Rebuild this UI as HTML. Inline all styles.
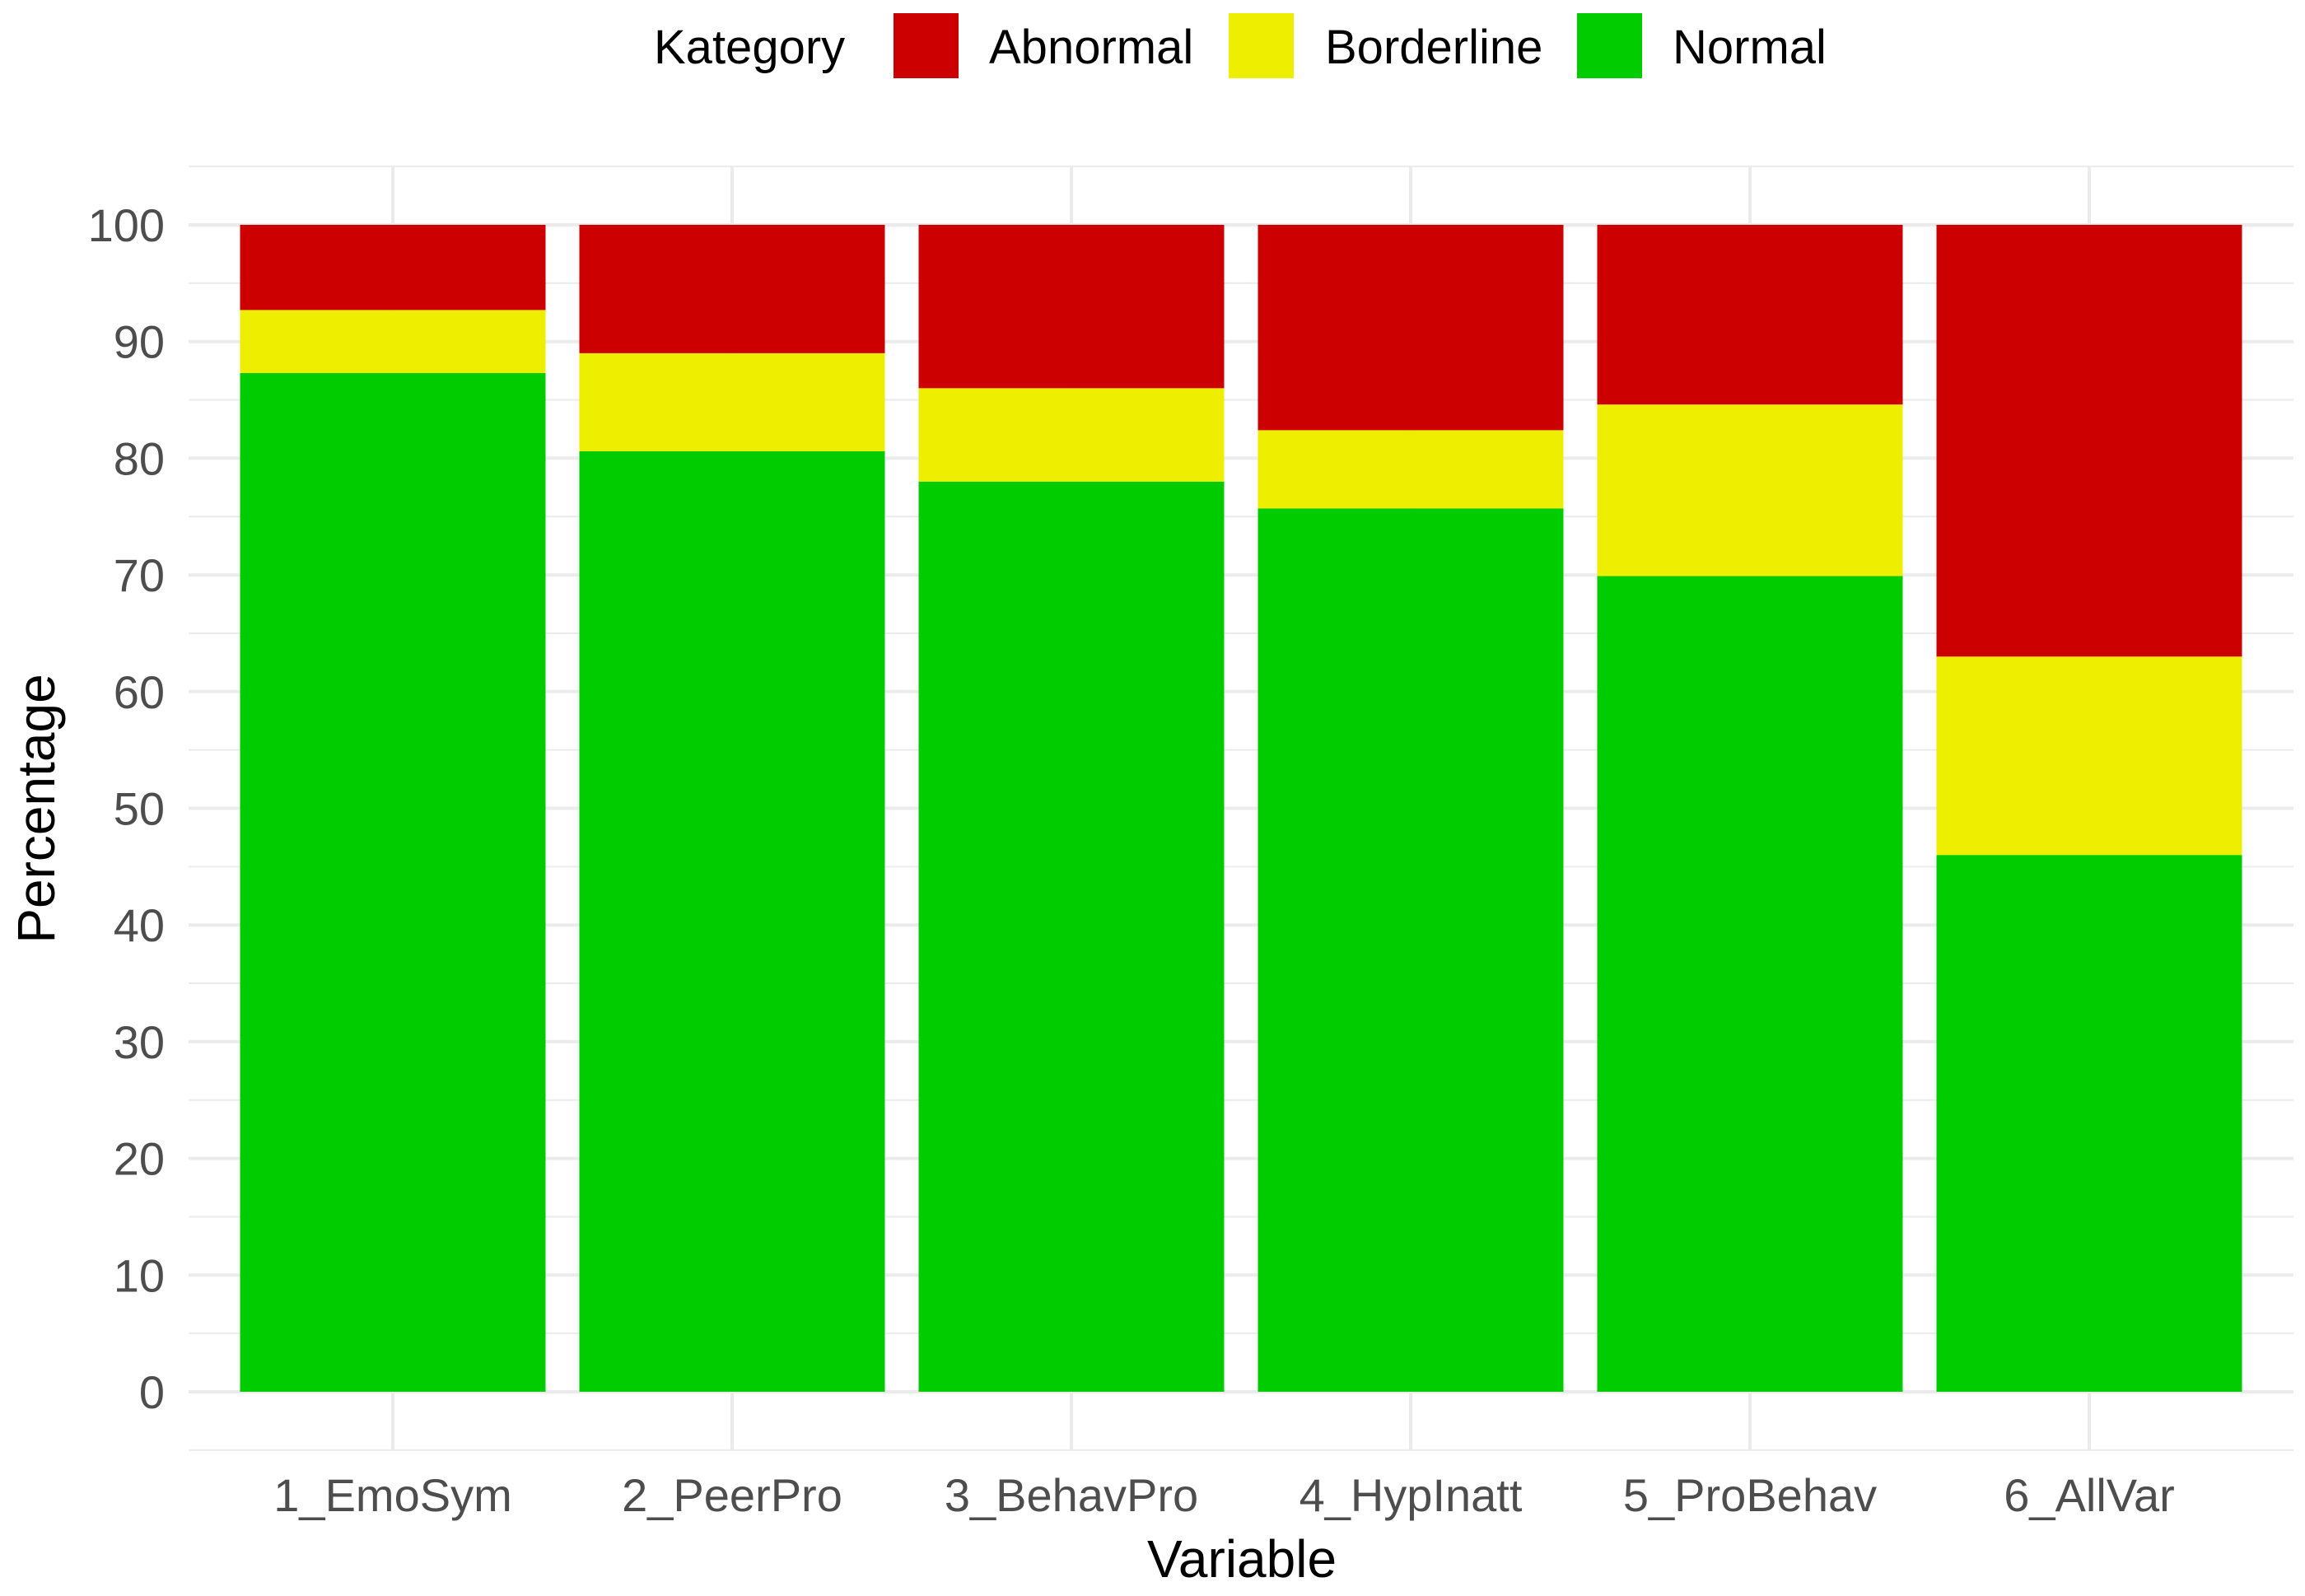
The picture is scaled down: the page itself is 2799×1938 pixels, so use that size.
<!DOCTYPE html>
<html><head><meta charset="utf-8"><style>
html,body{margin:0;padding:0;background:#fff}
svg{display:block}
text{font-family:"Liberation Sans",Arial,sans-serif}
</style></head><body>
<svg id="chart" width="2799" height="1938" xmlns="http://www.w3.org/2000/svg">
<g id="grid"></g>
<g id="bars"></g>
<g id="yticks"></g>
<g id="xticks"></g>
<text x="1508" y="1915" font-size="64" text-anchor="middle" fill="#000">Variable</text>
<text transform="translate(66,982) rotate(-90)" font-size="64" text-anchor="middle" fill="#000">Percentage</text>
<g>
<text x="794" y="77" font-size="58" fill="#000">Kategory</text>
<rect x="1085" y="16" width="79" height="79" fill="#cc0000"/>
<text x="1201" y="77" font-size="58" fill="#000">Abnormal</text>
<rect x="1492" y="16" width="79" height="79" fill="#eeee00"/>
<text x="1609" y="77" font-size="58" fill="#000">Borderline</text>
<rect x="1915" y="16" width="79" height="79" fill="#00cc00"/>
<text x="2031" y="77" font-size="58" fill="#000">Normal</text>
</g>
</svg>
<script>
const categories = ["1_EmoSym","2_PeerPro","3_BehavPro","4_HypInatt","5_ProBehav","6_AllVar"];
const normal = [87.3, 80.6, 78.0, 75.7, 69.9, 46.0];
const borderline = [5.4, 8.4, 8.0, 6.7, 14.7, 17.0];
const abnormal = [7.3, 11.0, 14.0, 17.6, 15.4, 37.0];
const yTicks = [0,10,20,30,40,50,60,70,80,90,100];

const NS = "http://www.w3.org/2000/svg";
const panelL = 229, panelR = 2785, panelT = 202, panelB = 1760;
const y0 = 1690, y100 = 273;
const xStart = 477, xStep = 412, barW = 371;
function yScale(v){ return y0 + (y100 - y0) * v / 100; }
function xScale(i){ return xStart + i * xStep; }
function mk(tag, attrs){ const e = document.createElementNS(NS, tag); for (const k in attrs) e.setAttribute(k, attrs[k]); return e; }

const grid = document.getElementById('grid');
for (let v = -5; v <= 105; v += 5) {
  const y = yScale(v);
  if (y < panelT - 1 || y > panelB + 1) continue;
  const major = v % 10 === 0;
  const l = mk('line', {x1: panelL, x2: panelR, y1: y, y2: y, stroke: '#ebebeb', 'stroke-width': major ? 4 : 2});
  
  
  grid.appendChild(l);
}
categories.forEach((c, i) => {
  const l = mk('line', {x1: xScale(i), x2: xScale(i), y1: panelT, y2: panelB, stroke: '#ebebeb', 'stroke-width': 4});
  
  
  grid.appendChild(l);
});

const bars = document.getElementById('bars');
categories.forEach((c, i) => {
  const x = xScale(i) - barW / 2;
  const segs = [[normal[i], '#00cc00', 'normal'], [borderline[i], '#eeee00', 'borderline'], [abnormal[i], '#cc0000', 'abnormal']];
  let base = 0;
  segs.forEach(s => {
    const yt = yScale(base + s[0]), yb = yScale(base);
    const r = mk('rect', {x: x, y: yt, width: barW, height: yb - yt, fill: s[1]});
    
    
    bars.appendChild(r);
    base += s[0];
  });
});

const yt = document.getElementById('yticks');
yTicks.forEach(v => {
  const t = mk('text', {x: 200, y: yScale(v) + 20, 'font-size': 56, 'text-anchor': 'end', fill: '#4d4d4d'});
  t.textContent = v;
  
  
  yt.appendChild(t);
});
const xt = document.getElementById('xticks');
categories.forEach((c, i) => {
  const t = mk('text', {x: xScale(i), y: 1835, 'font-size': 56, 'text-anchor': 'middle', fill: '#4d4d4d'});
  t.textContent = c;
  
  
  xt.appendChild(t);
});
</script>
</body></html>
